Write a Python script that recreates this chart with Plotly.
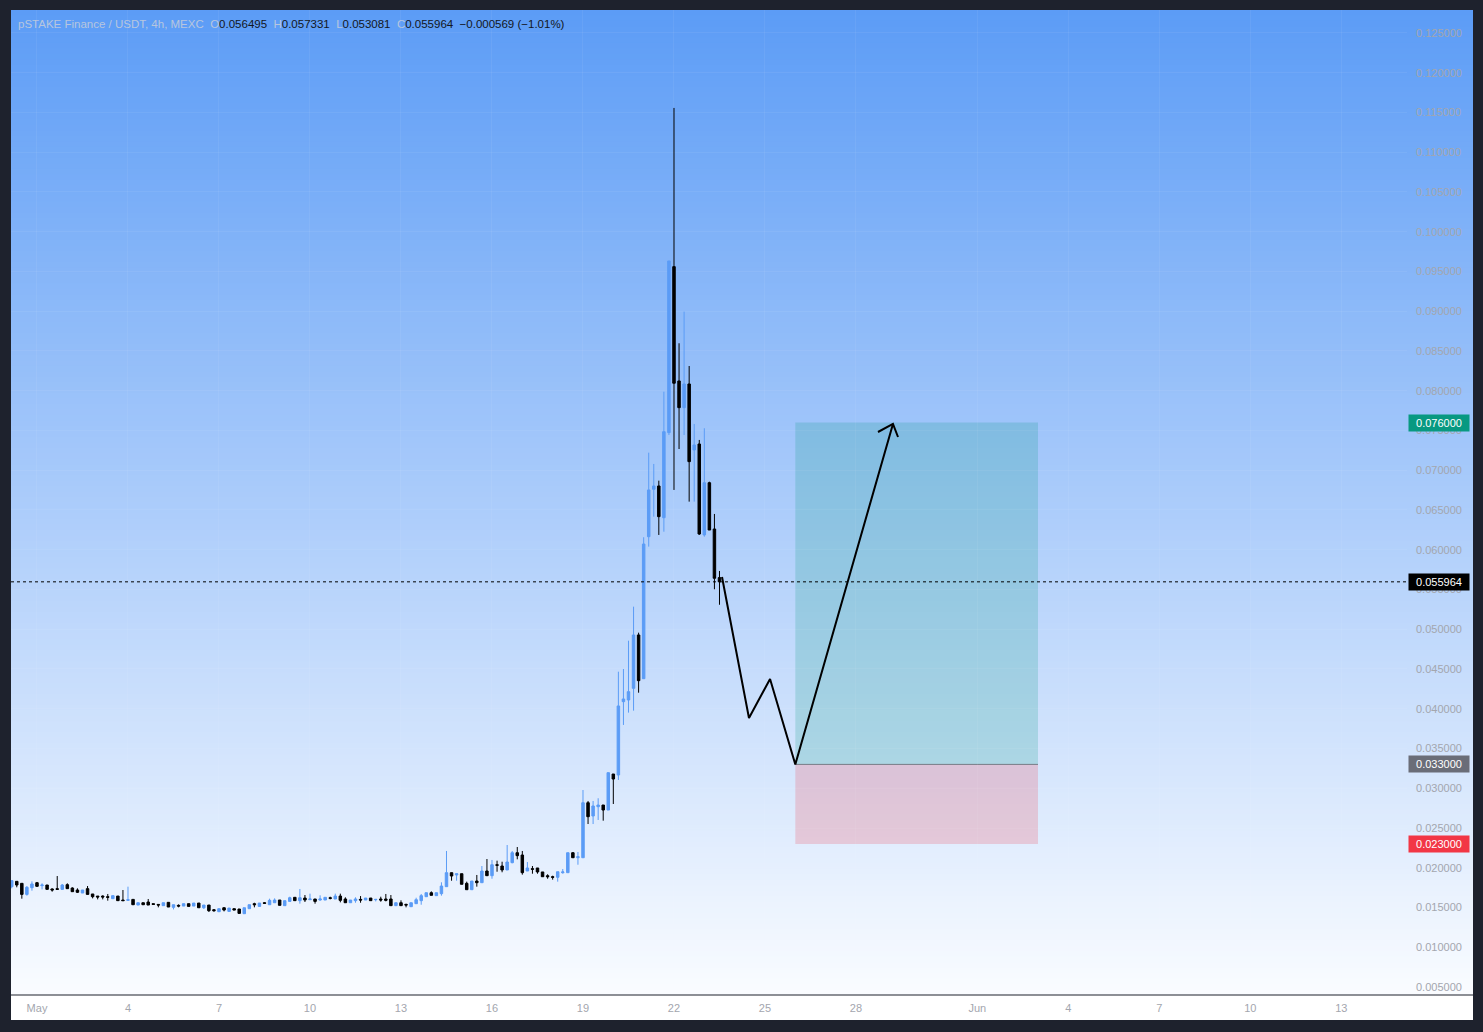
import plotly.graph_objects as go
import pandas as pd

# ---------------- data ----------------
open_ = [0.01762, 0.01829, 0.01804, 0.01665, 0.01749, 0.01812, 0.01775, 0.01783, 0.01733, 0.01737,
         0.01728, 0.01787, 0.01745, 0.01720, 0.01682, 0.01737, 0.01670, 0.01644, 0.01644, 0.01636,
         0.01611, 0.01644, 0.01594, 0.01590, 0.01602, 0.01531, 0.01560, 0.01569, 0.01548, 0.01539,
         0.01523, 0.01565, 0.01502, 0.01527, 0.01518, 0.01548, 0.01518, 0.01556, 0.01497, 0.01531,
         0.01472, 0.01447, 0.01497, 0.01451, 0.01485, 0.01481, 0.01422, 0.01485, 0.01548, 0.01514,
         0.01560, 0.01535, 0.01560, 0.01594, 0.01523, 0.01577, 0.01628, 0.01586, 0.01619, 0.01598,
         0.01607, 0.01594, 0.01594, 0.01623, 0.01607, 0.01644, 0.01607, 0.01560, 0.01586, 0.01602,
         0.01594, 0.01619, 0.01598, 0.01607, 0.01607, 0.01607, 0.01523, 0.01560, 0.01539, 0.01510,
         0.01548, 0.01586, 0.01636, 0.01686, 0.01649, 0.01674, 0.01762, 0.01938, 0.01909, 0.01925,
         0.01804, 0.01724, 0.01833, 0.01812, 0.01959, 0.01900, 0.02038, 0.02022, 0.01972, 0.02064,
         0.02189, 0.02160, 0.01959, 0.01988, 0.01997, 0.01947, 0.01900, 0.01887, 0.01880, 0.01938,
         0.01938, 0.02189, 0.02126, 0.02126, 0.02818, 0.02651, 0.02768, 0.02789, 0.02726, 0.03179,
         0.03167, 0.04089, 0.04110, 0.04257, 0.04928, 0.04378, 0.06164, 0.06761, 0.06802, 0.06403,
         0.07473, 0.09561, 0.08123, 0.07787, 0.08085, 0.07255, 0.07330, 0.06186, 0.06843, 0.06261,
         0.056495]
high = [0.01846, 0.01829, 0.01804, 0.01770, 0.01829, 0.01821, 0.01804, 0.01783, 0.01741, 0.01896,
        0.01796, 0.01804, 0.01754, 0.01741, 0.01720, 0.01770, 0.01670, 0.01644, 0.01653, 0.01670,
        0.01649, 0.01644, 0.01720, 0.01762, 0.01602, 0.01560, 0.01560, 0.01607, 0.01548, 0.01539,
        0.01560, 0.01565, 0.01535, 0.01539, 0.01548, 0.01548, 0.01556, 0.01556, 0.01531, 0.01531,
        0.01481, 0.01485, 0.01502, 0.01493, 0.01485, 0.01481, 0.01497, 0.01535, 0.01560, 0.01556,
        0.01569, 0.01611, 0.01615, 0.01594, 0.01586, 0.01636, 0.01628, 0.01733, 0.01657, 0.01674,
        0.01607, 0.01653, 0.01628, 0.01636, 0.01674, 0.01674, 0.01628, 0.01594, 0.01628, 0.01644,
        0.01619, 0.01619, 0.01602, 0.01636, 0.01670, 0.01657, 0.01560, 0.01590, 0.01548, 0.01560,
        0.01623, 0.01670, 0.01686, 0.01703, 0.01686, 0.01817, 0.02211, 0.01938, 0.01925, 0.01925,
        0.01825, 0.01833, 0.01909, 0.02022, 0.02110, 0.02098, 0.02089, 0.02076, 0.02286, 0.02211,
        0.02261, 0.02211, 0.02072, 0.02022, 0.01997, 0.01947, 0.01918, 0.01900, 0.01950, 0.01984,
        0.02189, 0.02198, 0.02198, 0.02978, 0.02840, 0.02840, 0.02874, 0.02789, 0.03196, 0.03179,
        0.04466, 0.04500, 0.04856, 0.05284, 0.04957, 0.06157, 0.07221, 0.07079, 0.06869, 0.07988,
        0.09632, 0.11557, 0.08597, 0.08995, 0.08311, 0.07582, 0.07381, 0.07528, 0.06856, 0.06450,
        0.057331]
low = [0.01741, 0.01754, 0.01611, 0.01649, 0.01712, 0.01762, 0.01728, 0.01728, 0.01699, 0.01728,
       0.01724, 0.01737, 0.01699, 0.01682, 0.01682, 0.01665, 0.01615, 0.01602, 0.01602, 0.01586,
       0.01611, 0.01586, 0.01586, 0.01586, 0.01535, 0.01531, 0.01535, 0.01531, 0.01539, 0.01502,
       0.01523, 0.01506, 0.01476, 0.01502, 0.01518, 0.01514, 0.01518, 0.01497, 0.01481, 0.01443,
       0.01447, 0.01447, 0.01451, 0.01451, 0.01468, 0.01426, 0.01422, 0.01485, 0.01502, 0.01514,
       0.01544, 0.01535, 0.01560, 0.01527, 0.01523, 0.01577, 0.01586, 0.01548, 0.01569, 0.01598,
       0.01548, 0.01586, 0.01594, 0.01602, 0.01607, 0.01565, 0.01560, 0.01560, 0.01560, 0.01560,
       0.01594, 0.01586, 0.01577, 0.01573, 0.01577, 0.01523, 0.01523, 0.01523, 0.01502, 0.01510,
       0.01548, 0.01535, 0.01636, 0.01653, 0.01649, 0.01649, 0.01762, 0.01837, 0.01837, 0.01792,
       0.01724, 0.01724, 0.01762, 0.01812, 0.01900, 0.01862, 0.01950, 0.01943, 0.01972, 0.02056,
       0.02106, 0.01913, 0.01959, 0.01925, 0.01925, 0.01887, 0.01862, 0.01850, 0.01825, 0.01925,
       0.01938, 0.02126, 0.02038, 0.02126, 0.02550, 0.02550, 0.02601, 0.02592, 0.02726, 0.02802,
       0.03104, 0.03796, 0.03951, 0.03976, 0.04202, 0.04378, 0.06039, 0.06416, 0.06186, 0.06227,
       0.07443, 0.06752, 0.07267, 0.07443, 0.06605, 0.06605, 0.06186, 0.06164, 0.06248, 0.05503,
       0.053081]
close = [0.01838, 0.01783, 0.01665, 0.01754, 0.01796, 0.01766, 0.01783, 0.01728, 0.01720, 0.01728,
         0.01783, 0.01737, 0.01699, 0.01691, 0.01720, 0.01665, 0.01636, 0.01632, 0.01632, 0.01628,
         0.01649, 0.01586, 0.01586, 0.01598, 0.01535, 0.01560, 0.01535, 0.01531, 0.01539, 0.01531,
         0.01560, 0.01506, 0.01535, 0.01518, 0.01548, 0.01514, 0.01556, 0.01497, 0.01531, 0.01460,
         0.01460, 0.01485, 0.01468, 0.01493, 0.01468, 0.01426, 0.01497, 0.01535, 0.01535, 0.01556,
         0.01552, 0.01590, 0.01594, 0.01527, 0.01586, 0.01623, 0.01586, 0.01623, 0.01594, 0.01607,
         0.01577, 0.01607, 0.01628, 0.01615, 0.01644, 0.01590, 0.01560, 0.01594, 0.01607, 0.01594,
         0.01619, 0.01586, 0.01602, 0.01594, 0.01590, 0.01523, 0.01560, 0.01523, 0.01531, 0.01560,
         0.01598, 0.01649, 0.01686, 0.01653, 0.01686, 0.01770, 0.01938, 0.01896, 0.01925, 0.01792,
         0.01724, 0.01833, 0.01812, 0.01959, 0.01900, 0.02038, 0.02031, 0.01972, 0.02072, 0.02189,
         0.02152, 0.01938, 0.01997, 0.01981, 0.01947, 0.01887, 0.01887, 0.01880, 0.01950, 0.01947,
         0.02189, 0.02126, 0.02139, 0.02818, 0.02642, 0.02777, 0.02789, 0.02726, 0.03196, 0.03116,
         0.04035, 0.04123, 0.04215, 0.04928, 0.04353, 0.06072, 0.06752, 0.06802, 0.06416, 0.07485,
         0.09632, 0.08094, 0.07787, 0.08085, 0.07108, 0.07318, 0.06198, 0.06843, 0.06248, 0.05641,
         0.055964]
first_bar = '2025-04-30 04:00'          # 4h bars
last_price = 0.055964

tick_dates = ['2025-05-01', '2025-05-04', '2025-05-07', '2025-05-10', '2025-05-13', '2025-05-16',
              '2025-05-19', '2025-05-22', '2025-05-25', '2025-05-28', '2025-06-01', '2025-06-04',
              '2025-06-07', '2025-06-10', '2025-06-13']
tick_text = ['May', '4', '7', '10', '13', '16', '19', '22', '25', '28', 'Jun', '4', '7', '10', '13']
price_ticks = [0.005, 0.010, 0.015, 0.020, 0.025, 0.030, 0.035, 0.040, 0.045, 0.050, 0.055, 0.060,
               0.065, 0.070, 0.075, 0.080, 0.085, 0.090, 0.095, 0.100, 0.105, 0.110, 0.115, 0.120, 0.125]

# long position tool
pos_start, pos_end = '2025-05-26 00:00', '2025-06-03 00:00'
target_price, entry_price, stop_price = 0.076, 0.033, 0.023

# projected path drawing
path_time = ['2025-05-23 14:00', '2025-05-24 11:20', '2025-05-25 04:00', '2025-05-26 00:00', '2025-05-29 05:15']
path_price = [0.05657, 0.03884, 0.04374, 0.0330, 0.07582]
head_time = ['2025-05-28 17:25', '2025-05-29 05:15', '2025-05-29 09:15']
head_price = [0.07481, 0.07582, 0.07418]

# ---------------- layout geometry ----------------
W, H = 1483, 1032
L, R, T, B = 11, 76, 10, 37            # plot area 11..1407 x 10..995
PW, PH = W - L - R, H - T - B


def px(x):
    return (x - L) / PW


def py(y):
    return (H - B - y) / PH


FONT = 'Liberation Sans, Arial, sans-serif'
TICK_COLOR = '#a3a6ae'
GRID = 'rgba(255,255,255,0.06)'

candle_time = pd.date_range(first_bar, periods=len(open_), freq='4h')

fig = go.Figure()
fig.add_trace(go.Candlestick(
    x=candle_time, open=open_, high=high, low=low, close=close,
    increasing=dict(line=dict(color='#5b9cf6', width=1), fillcolor='#5b9cf6'),
    decreasing=dict(line=dict(color='#000000', width=1), fillcolor='#000000'),
    whiskerwidth=0, hoverinfo='skip', showlegend=False))

fig.add_trace(go.Scatter(x=path_time, y=path_price, mode='lines',
                         line=dict(color='#000000', width=2), hoverinfo='skip', showlegend=False))
fig.add_trace(go.Scatter(x=head_time, y=head_price, mode='lines',
                         line=dict(color='#000000', width=2), hoverinfo='skip', showlegend=False))

shapes = []
# background gradient (plot + price scale)
top_c = (92, 156, 246)
bot_c = (250, 252, 255)
N = 180
for i in range(N):
    f = (i + 0.5) / N
    c = tuple(round(top_c[k] + (bot_c[k] - top_c[k]) * f) for k in range(3))
    shapes.append(dict(type='rect', xref='paper', yref='paper', layer='below',
                       x0=0, x1=px(1473), y0=1 - (i + 1) / N - 0.002, y1=1 - i / N,
                       fillcolor='rgb(%d,%d,%d)' % c, line=dict(width=0)))
# time scale strip
shapes.append(dict(type='rect', xref='paper', yref='paper', layer='below',
                   x0=0, x1=px(1473), y0=py(1020), y1=0, fillcolor='#ffffff', line=dict(width=0)))
shapes.append(dict(type='line', xref='paper', yref='paper', layer='above',
                   x0=0, x1=px(1473), y0=0, y1=0, line=dict(color='#1e222d', width=1)))
# long position zones
shapes.append(dict(type='rect', xref='x', yref='y', layer='below', x0=pos_start, x1=pos_end,
                   y0=entry_price, y1=target_price, fillcolor='rgba(8,153,129,0.2)', line=dict(width=0)))
shapes.append(dict(type='rect', xref='x', yref='y', layer='below', x0=pos_start, x1=pos_end,
                   y0=stop_price, y1=entry_price, fillcolor='rgba(242,54,69,0.2)', line=dict(width=0)))
shapes.append(dict(type='line', xref='x', yref='y', layer='below', x0=pos_start, x1=pos_end,
                   y0=entry_price, y1=entry_price, line=dict(color='#787b86', width=1)))
# last price dotted line
shapes.append(dict(type='line', xref='paper', yref='y', layer='above', x0=0, x1=1,
                   y0=last_price, y1=last_price, line=dict(color='#000000', width=1, dash='dot')))

annotations = []
lbl = '#b7c6de'
val = '#131722'
header = ("<span style='color:%s'>pSTAKE Finance / USDT, 4h, MEXC\u00a0\u00a0O</span>"
          "<span style='color:%s'>0.056495\u00a0\u00a0</span><span style='color:%s'>H</span>"
          "<span style='color:%s'>0.057331\u00a0\u00a0</span><span style='color:%s'>L</span>"
          "<span style='color:%s'>0.053081\u00a0\u00a0</span><span style='color:%s'>C</span>"
          "<span style='color:%s'>0.055964\u00a0\u00a0\u22120.000569 (\u22121.01%%)</span>"
          ) % (lbl, val, lbl, val, lbl, val, lbl, val)
annotations.append(dict(xref='paper', yref='paper', x=px(16), y=py(24), xanchor='left', yanchor='middle',
                        text=header, showarrow=False, font=dict(family=FONT, size=11.5, color=val)))
for price, bg in [(target_price, '#089981'), (last_price, '#000000'),
                  (entry_price, '#6a6d78'), (stop_price, '#f23645')]:
    annotations.append(dict(xref='paper', yref='y', x=px(1408), y=price, xanchor='left', yanchor='middle',
                            text='%.6f' % price, showarrow=False, bgcolor=bg, width=58, height=14,
                            borderpad=1, align='center',
                            font=dict(family=FONT, size=11, color='#ffffff')))

fig.update_layout(
    width=W, height=H, margin=dict(l=L, r=R, t=T, b=B, pad=0),
    paper_bgcolor='#1e222d', plot_bgcolor='rgba(0,0,0,0)',
    shapes=shapes, annotations=annotations, showlegend=False,
    font=dict(family=FONT, size=11, color=TICK_COLOR),
    hovermode=False,
    xaxis=dict(type='date', range=['2025-04-30 03:26', '2025-06-15 03:58'],
               rangeslider=dict(visible=False), tickmode='array', tickvals=tick_dates, ticktext=tick_text,
               showgrid=True, gridcolor=GRID, gridwidth=1, zeroline=False,
               showline=False, ticks='', ticklabelstandoff=5,
               tickfont=dict(family=FONT, size=11, color=TICK_COLOR)),
    yaxis=dict(side='right', range=[0.003994, 0.12789], tickmode='array', tickvals=price_ticks,
               ticktext=['%.6f' % v for v in price_ticks],
               showgrid=True, gridcolor=GRID, gridwidth=1, zeroline=False,
               showline=False, ticks='', ticklabelstandoff=8,
               tickfont=dict(family=FONT, size=11, color=TICK_COLOR)),
)

fig.write_html("out.html", config={'displayModeBar': False},
               post_script="document.body.style.margin='0';document.body.style.background='#1e222d';")
